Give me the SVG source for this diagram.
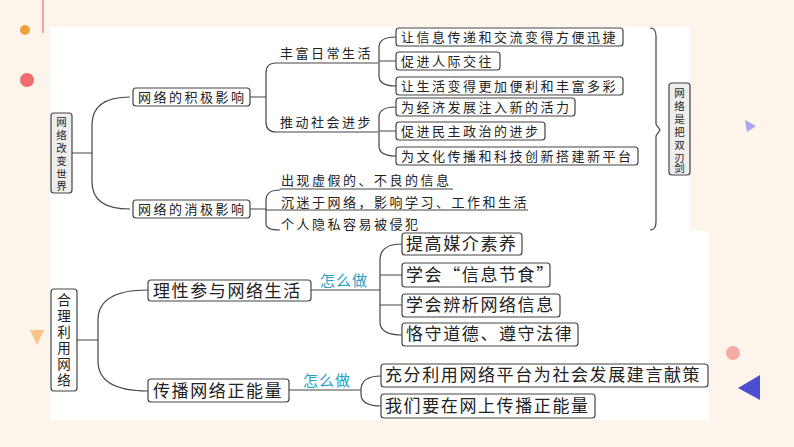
<svg xmlns="http://www.w3.org/2000/svg" width="794" height="447" viewBox="0 0 794 447">
<style>
text{font-family:"Noto Sans CJK SC","Liberation Sans",sans-serif;fill:#222}
.t{font-size:13px;letter-spacing:2.5px}
.v{font-size:10.5px;text-anchor:middle}
.vb{font-size:13.5px;text-anchor:middle}
.b{font-size:17px;letter-spacing:1.6px}
.box{fill:#fff;stroke:#444;stroke-width:1.2}
.vbox{fill:#eee;stroke:#444;stroke-width:1.2}
.ln{fill:none;stroke:#444;stroke-width:1.2}
.how{font-size:15px;fill:#2a9fc4;letter-spacing:1px}
</style>
<rect width="794" height="447" fill="#fdf5ec"/>
<rect x="50" y="27" width="640" height="205" fill="#fff"/>
<rect x="50" y="231" width="659" height="189" fill="#fff"/>
<line x1="43" y1="0" x2="43" y2="33" stroke="#f08a7a" stroke-width="1.5"/>
<circle cx="25" cy="30" r="5" fill="#f2a03a"/>
<circle cx="27" cy="80" r="7" fill="#f26d6d"/>
<polygon points="745,120 756,126 747,132" fill="#a9a7ea"/>
<polygon points="30,330 44,330 37,345" fill="#f9c48a"/>
<circle cx="733" cy="353" r="7" fill="#f6aaa4"/>
<polygon points="760,375 760,400 738,388" fill="#4b4fcf"/>
<g id="connectors">
<path class="ln" d="M72,153 H92 M130,97 Q92,97 92,125 V182 Q92,209 130,209"/>
<path class="ln" d="M250,97 H266 M378,63 H276 Q266,63 266,73 V122 Q266,132 276,132 H378"/>
<path class="ln" d="M396,37 Q379,37 379,47 V76 Q379,86 396,86 M379,61 H396"/>
<path class="ln" d="M396,107 Q379,107 379,117 V146 Q379,156 396,156 M379,131 H396"/>
<path class="ln" d="M250,209 H266 M280,190 Q266,190 266,200 V224 Q266,230 280,230"/>
<path class="ln" d="M280,189 H453 M266,210 H528"/>
<path class="ln" d="M650,28 Q656,28 656,36 V124 L660,130 L656,136 V222 Q656,230 650,230"/>
<path class="ln" d="M77,340 H98 M148,290 Q98,290 98,320 V361 Q98,391 148,391"/>
<path class="ln" d="M311,290 H380 M402,244 Q380,244 380,260 V322 Q380,335 402,335 M380,275 H402 M380,305 H402"/>
<path class="ln" d="M289,390 H361 M381,376 Q361,376 361,390 V394 Q361,406 381,406"/>
</g>
<g id="n-root1"><rect class="vbox" x="51" y="113" width="21" height="80" rx="3"/>
<text class="v" x="61.5" y="126">网</text><text class="v" x="61.5" y="139">络</text><text class="v" x="61.5" y="152">改</text><text class="v" x="61.5" y="165">变</text><text class="v" x="61.5" y="178">世</text><text class="v" x="61.5" y="190">界</text></g>
<g id="n-pos"><rect class="box" x="133" y="88" width="117" height="18" rx="3"/><text class="t" x="138" y="102">网络的积极影响</text></g>
<g id="n-neg"><rect class="box" x="133" y="200" width="117" height="18" rx="3"/><text class="t" x="138" y="214">网络的消极影响</text></g>
<g id="n-l1"><text class="t" x="280" y="58">丰富日常生活</text></g>
<g id="n-l2"><text class="t" x="280" y="127">推动社会进步</text></g>
<g id="n-a1"><rect class="box" x="396" y="28" width="227" height="18" rx="3"/><text class="t" x="401" y="42">让信息传递和交流变得方便迅捷</text></g>
<g id="n-a2"><rect class="box" x="396" y="52" width="104" height="18" rx="3"/><text class="t" x="401" y="66">促进人际交往</text></g>
<g id="n-a3"><rect class="box" x="396" y="77" width="227" height="18" rx="3"/><text class="t" x="401" y="91">让生活变得更加便利和丰富多彩</text></g>
<g id="n-a4"><rect class="box" x="396" y="98" width="179" height="18" rx="3"/><text class="t" x="401" y="112">为经济发展注入新的活力</text></g>
<g id="n-a5"><rect class="box" x="396" y="122" width="149" height="18" rx="3"/><text class="t" x="401" y="136">促进民主政治的进步</text></g>
<g id="n-a6"><rect class="box" x="396" y="147" width="242" height="18" rx="3"/><text class="t" x="401" y="161">为文化传播和科技创新搭建新平台</text></g>
<g id="n-n1"><text class="t" x="281" y="185">出现虚假的、不良的信息</text></g>
<g id="n-n2"><text class="t" x="281" y="207">沉迷于网络，影响学习、工作和生活</text></g>
<g id="n-n3"><text class="t" x="281" y="229">个人隐私容易被侵犯</text></g>
<g id="n-sword"><rect class="vbox" x="669" y="83" width="21" height="92" rx="3"/>
<text class="v" x="679.5" y="97">网</text><text class="v" x="679.5" y="110">络</text><text class="v" x="679.5" y="123">是</text><text class="v" x="679.5" y="136">把</text><text class="v" x="679.5" y="149">双</text><text class="v" x="679.5" y="162">刃</text><text class="v" x="679.5" y="172">剑</text></g>
<g id="n-root2"><rect class="box" x="51" y="289" width="26" height="102" rx="3"/>
<text class="vb" x="64" y="305">合</text><text class="vb" x="64" y="321">理</text><text class="vb" x="64" y="337">利</text><text class="vb" x="64" y="353">用</text><text class="vb" x="64" y="369">网</text><text class="vb" x="64" y="385">络</text></g>
<g id="n-r1"><rect class="box" x="148" y="280" width="163" height="21" rx="3"/><text class="b" x="153" y="297">理性参与网络生活</text></g>
<g id="n-r2"><rect class="box" x="148" y="379" width="141" height="23" rx="3"/><text class="b" x="153" y="397">传播网络正能量</text></g>
<text class="how" x="320" y="286">怎么做</text>
<text class="how" x="303" y="386">怎么做</text>
<g id="n-b1"><rect class="box" x="402" y="233" width="120" height="22" rx="3"/><text class="b" x="406" y="250">提高媒介素养</text></g>
<g id="n-b2"><rect class="box" x="402" y="263" width="148" height="24" rx="3"/><text class="b" x="406" y="281">学会“信息节食”</text></g>
<g id="n-b3"><rect class="box" x="402" y="294" width="158" height="23" rx="3"/><text class="b" x="406" y="311">学会辨析网络信息</text></g>
<g id="n-b4"><rect class="box" x="402" y="323" width="176" height="23" rx="3"/><text class="b" x="406" y="340">恪守道德、遵守法律</text></g>
<g id="n-c1"><rect class="box" x="381" y="364" width="327" height="23" rx="3"/><text class="b" x="385" y="381">充分利用网络平台为社会发展建言献策</text></g>
<g id="n-c2"><rect class="box" x="381" y="394" width="214" height="24" rx="3"/><text class="b" x="385" y="412">我们要在网上传播正能量</text></g>
</svg>
